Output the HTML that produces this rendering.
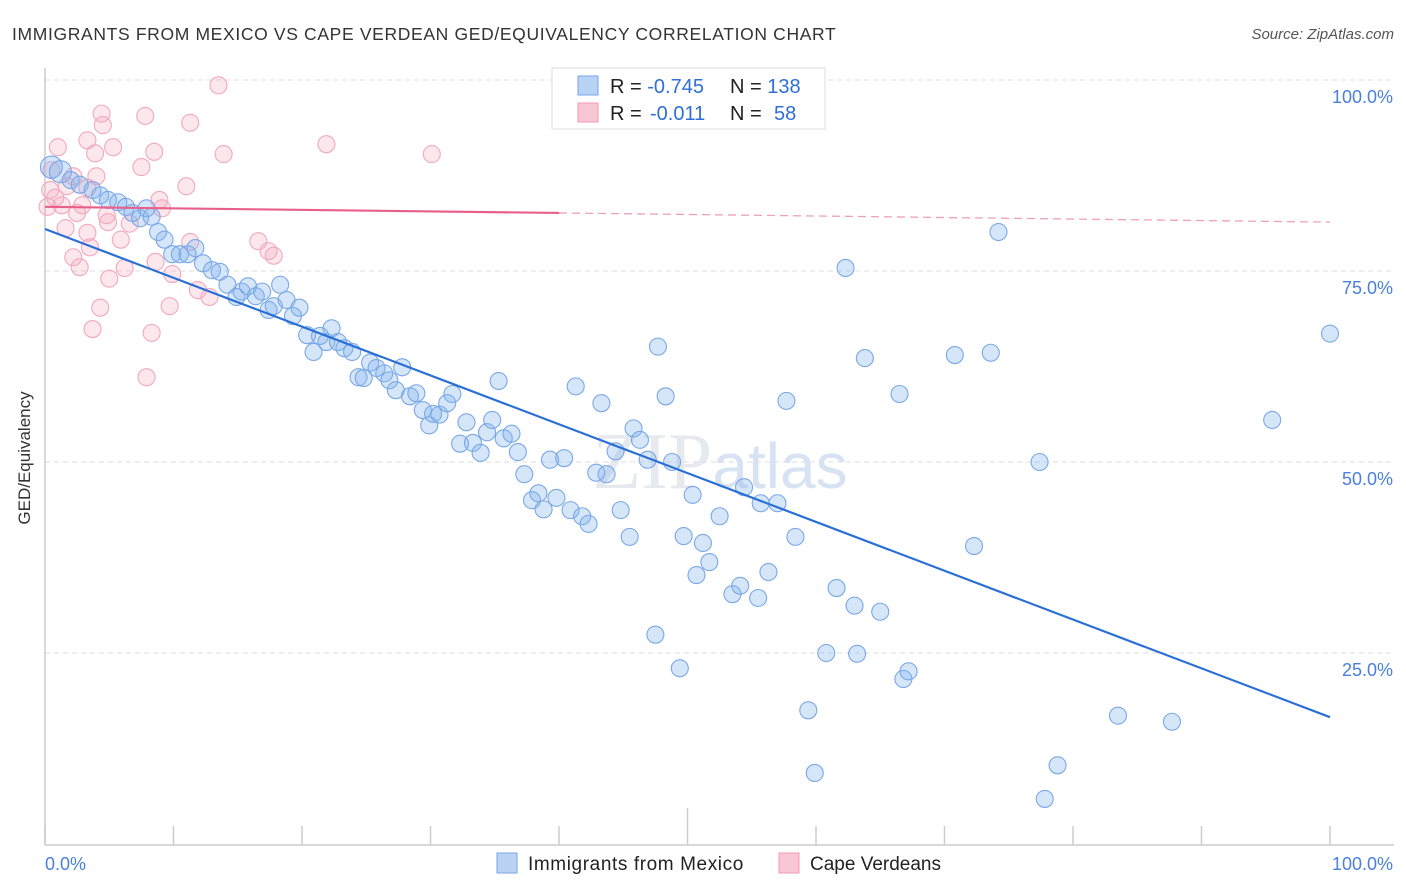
<!DOCTYPE html>
<html><head><meta charset="utf-8"><style>
body{margin:0;background:#fff;font-family:"Liberation Sans",sans-serif;}
svg{display:block}
</style></head><body>
<svg id="chart" width="1406" height="892">
<text x="12" y="40" font-size="17.5" fill="#333" letter-spacing="0.65">IMMIGRANTS FROM MEXICO VS CAPE VERDEAN GED/EQUIVALENCY CORRELATION CHART</text>
<text x="1394" y="39" font-size="15" fill="#555" font-style="italic" text-anchor="end">Source: ZipAtlas.com</text>
<text x="30" y="458" font-size="17" fill="#333" text-anchor="middle" transform="rotate(-90 30 458)">GED/Equivalency</text>
<text x="720" y="488" font-size="80" fill="#e6e9ee" text-anchor="middle" font-family="Liberation Serif">ZIP<tspan font-family="Liberation Sans" font-size="64" fill="#d7e3f3">atlas</tspan></text>
<g id="grid"></g><g id="axes"></g><g id="pts"></g><g id="lines"></g>
<g>
<rect x="552" y="68" width="273" height="61" fill="#fff" stroke="#ddd"/>
<rect x="578" y="76" width="20" height="19" fill="#b9d3f5" stroke="#7aa6e6"/>
<rect x="578" y="103" width="20" height="19" fill="#f9c6d5" stroke="#f09ab4"/>
<text x="610" y="93" font-size="20" fill="#222">R = <tspan fill="#2f6fd6">-0.745</tspan><tspan x="730">N = </tspan><tspan fill="#2f6fd6">138</tspan></text>
<text x="610" y="120" font-size="20" fill="#222">R = <tspan fill="#2f6fd6" x="650">-0.011</tspan><tspan x="730">N = </tspan><tspan fill="#2f6fd6" x="774">58</tspan></text>
</g>
<g>
<rect x="497" y="853" width="20" height="20" fill="#b9d3f5" stroke="#7aa6e6"/>
<text x="528" y="870" font-size="19" fill="#222" letter-spacing="0.6">Immigrants from Mexico</text>
<rect x="779" y="853" width="20" height="20" fill="#f9c6d5" stroke="#f09ab4"/>
<text x="810" y="870" font-size="19" fill="#222">Cape Verdeans</text>
</g>
</svg>
<script>
const blueX=[0.5,1.2,2,2.7,3.7,4.3,4.9,5.7,6.3,6.8,7.4,7.9,8.3,8.8,9.3,9.9,10.5,11.1,11.7,12.3,13,13.6,14.2,14.9,15.3,15.8,16.4,16.9,17.4,17.8,18.3,18.8,19.3,19.8,20.4,20.9,21.4,21.9,22.3,22.8,23.3,23.9,24.4,24.8,25.3,25.8,26.4,26.8,27.3,27.8,28.4,28.9,29.4,29.9,30.2,30.7,31.3,31.7,32.3,32.8,33.3,33.9,34.4,34.8,35.3,35.7,36.3,36.8,37.3,37.9,38.4,38.8,39.3,39.8,40.4,40.9,41.3,41.8,42.3,42.9,43.3,43.7,44.4,44.8,45.5,45.8,46.3,46.9,47.5,47.7,48.3,48.8,49.4,49.7,50.4,50.7,51.2,51.7,52.5,53.5,54.1,54.4,55.5,55.7,56.3,57,57.7,58.4,59.4,59.9,60.8,61.6,62.3,63,63.2,63.8,65,66.5,66.8,67.2,70.8,72.3,73.6,74.2,77.4,77.8,78.8,83.5,87.7,95.5,100];
const blueY=[88.6,88,86.9,86.3,85.6,84.9,84.3,84,83.4,82.6,81.9,83.2,82.1,80.1,79.1,77.2,77.2,77.2,78,76,75.1,74.9,73.2,71.6,72.3,73,71.7,72.3,69.9,70.4,73.2,71.2,69.1,70.2,66.6,64.4,66.5,65.7,67.5,65.7,64.9,64.4,61.1,61,63,62.3,61.6,60.7,59.4,62.4,58.6,59,56.8,54.8,56.3,56.2,57.7,58.9,52.4,55.2,52.5,51.2,53.9,55.5,60.6,53.1,53.7,51.3,48.4,45,45.9,43.8,50.3,45.3,50.5,43.7,59.9,42.9,41.9,48.6,57.7,48.4,51.4,43.7,40.2,54.4,52.9,50.3,27.4,65.1,58.6,50,23,40.3,45.7,35.2,39.4,36.9,42.9,32.7,33.8,46.7,32.2,44.6,35.6,44.6,58,40.2,17.5,9.3,25,33.5,75.4,31.2,24.9,63.6,30.4,58.9,21.6,22.6,64,39,64.3,80.1,50,5.9,10.3,16.8,16,55.5,66.8];
const pinkX=[13.5,4.4,7.8,11.3,4.5,3.3,1,5.3,21.9,3.9,8.5,13.9,30.1,7.5,0.5,4,11,2.2,1.7,0.4,3.3,0.8,8.9,1.3,2.9,0.2,2.5,4.8,9.1,4.9,6.6,1.6,3.3,5.9,16.6,11.3,3.5,17.4,17.8,2.2,8.6,2.7,6.2,9.9,5,11.9,12.8,4.3,9.7,3.7,8.3,7.9];
const pinkY=[99.3,95.6,95.3,94.4,94.1,92.1,91.2,91.2,91.6,90.4,90.6,90.3,90.3,88.6,88.2,87.4,86.1,87.4,86.1,85.6,85.9,84.6,84.3,83.6,83.6,83.4,82.6,82.3,83.2,81.4,81.2,80.6,80,79.1,78.9,78.8,78.1,77.6,77,76.8,76.2,75.5,75.4,74.6,74,72.5,71.6,70.2,70.4,67.4,66.9,61.1];
const blueTrend=[80.5,16.6];   // y at x=0, x=100
const pinkTrend=[83.4,81.4];
const yTicks=[100,75,50,25];
const yTickLabels=["100.0%","75.0%","50.0%","25.0%"];
const xTicks=[0,10,20,30,40,50,60,70,80,90,100];

const NS="http://www.w3.org/2000/svg";
const X=v=>45+v*12.85, Y=v=>844-v*7.64;
function mk(p,t,a){const e=document.createElementNS(NS,t);for(const k in a)e.setAttribute(k,a[k]);document.getElementById(p).appendChild(e);return e;}
yTicks.forEach((t,i)=>{
 const g=mk('grid','line',{x1:45,x2:1394,y1:Y(t),y2:Y(t),stroke:'#ddd','stroke-dasharray':'5,4'});
 
 
 const l=mk('grid','text',{x:1393,y:Y(t)+23,'font-size':18,fill:'#4a80dc','text-anchor':'end'});
 l.textContent=yTickLabels[i];
 
 
});
const ax=mk('axes','line',{x1:45,x2:1394,y1:845,y2:845,stroke:'#ccc','stroke-width':1.5});


const ay=mk('axes','line',{x1:45,x2:45,y1:68,y2:845,stroke:'#ccc','stroke-width':1.5});


xTicks.forEach(t=>{
 const e=mk('axes','line',{x1:X(t),x2:X(t),y1:t==50?808:826,y2:845,stroke:'#ccc','stroke-width':1.5});
 
 
});
const xl0=mk('axes','text',{x:45,y:870,'font-size':18,fill:'#4a80dc'});xl0.textContent="0.0%";


const xl1=mk('axes','text',{x:1393,y:870,'font-size':18,fill:'#4a80dc','text-anchor':'end'});xl1.textContent="100.0%";


pinkX.forEach((x,i)=>{
 const c=mk('pts','circle',{cx:X(x),cy:Y(pinkY[i]),r:8.5,fill:'rgba(246,168,192,0.28)',stroke:'#f2a8be','stroke-width':1.1});
 
 
});
blueX.forEach((x,i)=>{
 const c=mk('pts','circle',{cx:X(x),cy:Y(blueY[i]),r:i<2?11:8.5,fill:'rgba(130,178,236,0.33)',stroke:'#7aa8e6','stroke-width':1.1});
 
 
});
const bl=mk('lines','line',{x1:X(0),y1:Y(blueTrend[0]),x2:X(100),y2:Y(blueTrend[1]),stroke:'#2a6fd6','stroke-width':2.2});


const pAt=x=>pinkTrend[0]+(pinkTrend[1]-pinkTrend[0])*x/100;
const pl=mk('lines','line',{x1:X(0),y1:Y(pAt(0)),x2:X(40),y2:Y(pAt(40)),stroke:'#e8608a','stroke-width':2.2});


const pd=mk('lines','line',{x1:X(40),y1:Y(pAt(40)),x2:X(100),y2:Y(pAt(100)),stroke:'#eea0b8','stroke-width':1.3,'stroke-dasharray':'8,5'});


</script>
</body></html>
